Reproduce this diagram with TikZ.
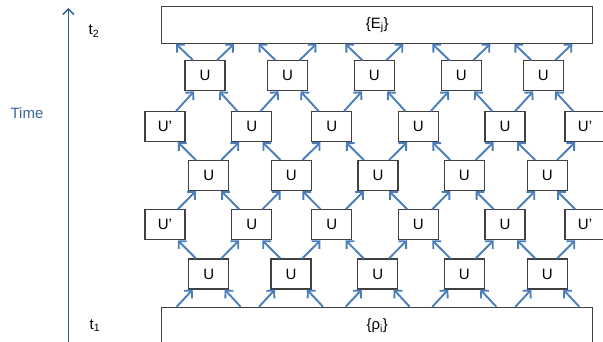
\documentclass[tikz,border=0pt]{standalone}
\usepackage{fontspec}
\setmainfont{Liberation Sans}
\usetikzlibrary{arrows.meta,calc}
\definecolor{arrblue}{HTML}{4A7EBB}
\definecolor{axisblue}{HTML}{2E5C8E}
\definecolor{timeblue}{HTML}{3A6599}
\tikzset{
  ubox/.style={draw=black!75,line width=1.1pt,minimum width=40pt,minimum height=30pt,inner sep=0pt,font=\fontsize{15}{18}\selectfont},
  bigbox/.style={draw=black!75,line width=1.1pt,inner sep=0pt,minimum width=431pt,minimum height=36.6pt,font=\fontsize{15}{18}\selectfont},
  arr/.style={arrblue,line width=1.9pt,-{Straight Barb[length=5.5pt,width=11pt]}},
  axisarr/.style={axisblue,line width=1.4pt,-{Straight Barb[length=5.5pt,width=11pt]}},
  lbl/.style={font=\fontsize{15}{17}\selectfont,inner sep=0pt},
}
\newcommand\conn[3]{%
  \path ($(#1.center)!0.5!(#2.center)$) coordinate (mm);
  \draw[arr] ($(#1.north -| mm)+({-9*(#3)},0)$) -- ($(#2.south -| mm)+({9*(#3)},0)$);}
\newcommand\conntop[2]{%
  \draw[arr] ($(#1.north)+({12*(#2)},0)$) -- ($(#1.north |- top.south)+({29*(#2)},0)$);}
\newcommand\connbot[2]{%
  \draw[arr] ($(#1.south |- bot.north)+({32*(#2)},0)$) -- ($(#1.south)+({16*(#2)},0)$);}
\begin{document}
\begin{tikzpicture}[x=1pt,y=-1pt]
\useasboundingbox (0,0) rectangle (603,342);
\clip (0,0) rectangle (603,342);
% big boxes
\node[bigbox] (top) at (377.2,25) {\{E\textsubscript{j}\}};
\node[bigbox] (bot) at (377.2,325.6) {\{ρ\textsubscript{i}\}};
% rows
\foreach \x [count=\i] in {205,287.5,374.3,461.3,543.3}
  \node[ubox] (A\i) at (\x,75.8) {U};
\foreach \x [count=\i] in {208.7,291.3,378,464.3,547.3}
  \node[ubox] (C\i) at (\x,175.5) {U};
\foreach \x [count=\i] in {208.7,291,377.7,464.3,547.3}
  \node[ubox] (E\i) at (\x,274) {U};
\node[ubox] (B0) at (165,126.7) {U'};
\node[ubox] (D0) at (165,224.7) {U'};
\foreach \x [count=\i] in {251.7,331.7,418.3,505}{
  \node[ubox] (B\i) at (\x,126.7) {U};
  \node[ubox] (D\i) at (\x,224.7) {U};
}
\node[ubox] (B5) at (585,126.7) {U'};
\node[ubox] (D5) at (585,224.7) {U'};
% connectors
\foreach \i in {1,...,5}{\conntop{A\i}{-1}\conntop{A\i}{1}}
\foreach \i in {1,...,5}{\connbot{E\i}{-1}\connbot{E\i}{1}}
\foreach \i [evaluate=\i as \j using int(\i-1)] in {1,...,5}{
  \conn{C\i}{B\j}{-1}\conn{C\i}{B\i}{1}
  \conn{E\i}{D\j}{-1}\conn{E\i}{D\i}{1}
}
\conn{B0}{A1}{1}\conn{D0}{C1}{1}
\foreach \i [evaluate=\i as \j using int(\i+1)] in {1,...,4}{
  \conn{B\i}{A\i}{-1}\conn{B\i}{A\j}{1}
  \conn{D\i}{C\i}{-1}\conn{D\i}{C\j}{1}
}
\conn{B5}{A5}{-1}\conn{D5}{C5}{-1}
% time axis
\coordinate (tb) at (68.3,345);
\coordinate (tt) at (68.3,8);
\draw[axisarr] (tb) -- (tt);
\node[lbl,text=timeblue] (time) at (27,113) {Time};
\node[lbl] (t2) at (94,31) {t\textsubscript{2}};
\node[lbl] (t1) at (95,326) {t\textsubscript{1}};
\end{tikzpicture}
\end{document}
